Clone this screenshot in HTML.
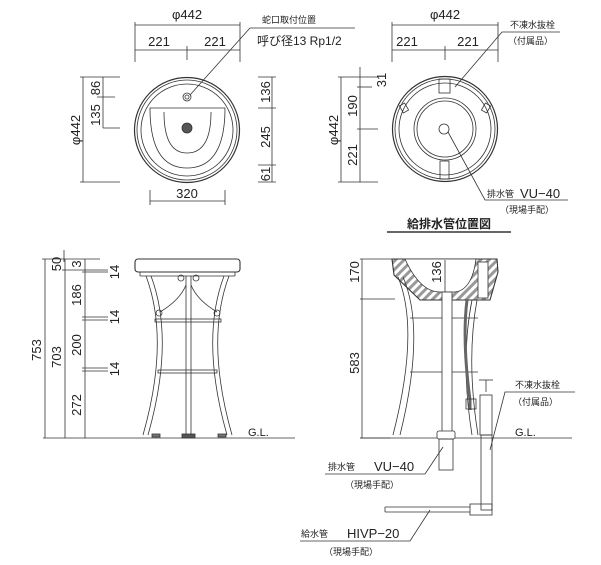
<!DOCTYPE html>
<html><head><meta charset="utf-8"><style>
html,body{margin:0;padding:0;background:#fff;}
svg{display:block;}
text{font-family:"Liberation Sans","Noto Sans CJK JP",sans-serif;fill:#222;}
.d{font-size:13px;}
.j{font-size:9px;}
</style></head><body>
<svg width="601" height="565" viewBox="0 0 601 565" xmlns="http://www.w3.org/2000/svg" fill="none" stroke="#333" stroke-width="0.8">
<defs>
<pattern id="h" width="6" height="6" patternUnits="userSpaceOnUse" patternTransform="rotate(45)">
<rect width="6" height="6" fill="#fff" stroke="none"/>
<rect width="3" height="6" fill="#999" stroke="none"/>
</pattern>
</defs>
<!-- TOP LEFT -->
<g>
<line x1="135" y1="22" x2="135" y2="62"/><line x1="240" y1="22" x2="240" y2="62"/>
<line x1="135" y1="25" x2="240" y2="25"/><line x1="135" y1="50" x2="240" y2="50"/>
<line x1="187" y1="46" x2="187" y2="60"/>
<text class="d" x="187" y="19" text-anchor="middle" stroke="none">φ442</text>
<text class="d" x="159" y="46" text-anchor="middle" stroke="none">221</text>
<text class="d" x="215" y="46" text-anchor="middle" stroke="none">221</text>
<circle cx="187" cy="130" r="52.5" stroke-width="1.2"/>
<circle cx="187" cy="130" r="50"/>
<circle cx="187" cy="130" r="46"/>
<path d="M150 108 Q150 168 187 168 Q225 168 225 108 Z"/>
<path d="M164 112 Q164 153 187 153 Q211 153 211 112"/>
<circle cx="187" cy="128" r="5" fill="#555"/>
<circle cx="187" cy="97" r="4"/>
<circle cx="187" cy="97" r="2"/>
<polyline points="190,95 250,28 355,28"/>
<text class="j" x="262" y="23" stroke="none">蛇口取付位置</text>
<text class="d" x="257" y="45" stroke="none" style="font-size:12px">呼び径13 Rp1/2</text>
<line x1="83" y1="77" x2="83" y2="182"/><line x1="103" y1="77" x2="103" y2="128"/>
<line x1="80" y1="77" x2="120" y2="77"/><line x1="97" y1="97" x2="115" y2="97"/>
<line x1="103" y1="128" x2="120" y2="128"/><line x1="80" y1="182" x2="120" y2="182"/>
<text class="d" transform="translate(80,130) rotate(-90)" text-anchor="middle" stroke="none">φ442</text>
<text class="d" transform="translate(100,115) rotate(-90)" text-anchor="middle" stroke="none">135</text>
<text class="d" transform="translate(100,88) rotate(-90)" text-anchor="middle" stroke="none">86</text>
<line x1="272" y1="77" x2="272" y2="182"/>
<line x1="258" y1="77" x2="276" y2="77"/><line x1="258" y1="108" x2="276" y2="108"/>
<line x1="258" y1="165" x2="276" y2="165"/><line x1="258" y1="182" x2="276" y2="182"/>
<text class="d" transform="translate(270,92) rotate(-90)" text-anchor="middle" stroke="none">136</text>
<text class="d" transform="translate(270,137) rotate(-90)" text-anchor="middle" stroke="none">245</text>
<text class="d" transform="translate(270,174) rotate(-90)" text-anchor="middle" stroke="none">61</text>
<line x1="150" y1="201" x2="225" y2="201"/><line x1="150" y1="190" x2="150" y2="205"/><line x1="225" y1="190" x2="225" y2="205"/>
<text class="d" x="187" y="198" text-anchor="middle" stroke="none">320</text>
</g>
<!-- TOP RIGHT -->
<g>
<line x1="392" y1="22" x2="392" y2="62"/><line x1="498" y1="22" x2="498" y2="62"/>
<line x1="392" y1="25" x2="498" y2="25"/><line x1="392" y1="50" x2="498" y2="50"/>
<line x1="445" y1="46" x2="445" y2="60"/>
<text class="d" x="445" y="19" text-anchor="middle" stroke="none">φ442</text>
<text class="d" x="407" y="46" text-anchor="middle" stroke="none">221</text>
<text class="d" x="468" y="46" text-anchor="middle" stroke="none">221</text>
<circle cx="445" cy="129" r="52.5" stroke-width="1.2"/>
<circle cx="445" cy="129" r="50"/>
<circle cx="445" cy="129" r="46"/>
<circle cx="445" cy="129" r="31"/>
<circle cx="445" cy="129" r="28"/>
<circle cx="444" cy="129" r="5"/>
<rect x="439" y="79" width="11" height="14"/>
<rect x="440" y="161" width="9" height="18"/>
<rect x="401" y="104" width="6" height="8" transform="rotate(-30 404 108)"/>
<rect x="483" y="104" width="6" height="8" transform="rotate(30 486 108)"/>
<polyline points="455,87 502,32 560,32"/>
<text class="j" x="510" y="28" stroke="none">不凍水抜栓</text>
<text class="j" x="508" y="44" stroke="none">（付属品）</text>
<polyline points="448,132 485,200 568,200"/>
<text class="j" x="487" y="197" stroke="none">排水管</text>
<text class="d" x="520" y="198" stroke="none">VU−40</text>
<text class="j" x="500" y="213" stroke="none">（現場手配）</text>
<line x1="341" y1="77" x2="341" y2="182"/><line x1="360" y1="67" x2="360" y2="182"/>
<line x1="338" y1="77" x2="378" y2="77"/><line x1="357" y1="87" x2="372" y2="87"/>
<line x1="357" y1="129" x2="378" y2="129"/><line x1="338" y1="182" x2="378" y2="182"/>
<text class="d" transform="translate(338,130) rotate(-90)" text-anchor="middle" stroke="none">φ442</text>
<text class="d" transform="translate(386,80) rotate(-90)" text-anchor="middle" stroke="none">31</text>
<text class="d" transform="translate(357,106) rotate(-90)" text-anchor="middle" stroke="none">190</text>
<text class="d" transform="translate(357,155) rotate(-90)" text-anchor="middle" stroke="none">221</text>
<text x="449" y="228" text-anchor="middle" stroke="none" style="font-size:12px;font-weight:bold">給排水管位置図</text>
<line x1="387" y1="232" x2="511" y2="232" stroke-width="1.5"/>
</g>
<!-- BOTTOM LEFT -->
<g>
<line x1="43" y1="438" x2="295" y2="438"/>
<text class="d" x="248" y="436" stroke="none" style="font-size:11px">G.L.</text>
<rect x="135" y="259" width="105" height="13" rx="3" stroke-width="1.1"/>
<line x1="140" y1="272" x2="140" y2="276"/><line x1="235" y1="272" x2="235" y2="276"/>
<line x1="140" y1="276" x2="235" y2="276"/>
<path d="M146 276 Q170 340 143 435 M151 276 Q175 340 148 435"/>
<path d="M229 276 Q205 340 232 435 M224 276 Q200 340 227 435"/>
<rect x="155" y="319" width="66" height="3"/>
<rect x="158" y="370" width="59" height="3"/>
<line x1="186" y1="276" x2="186" y2="435"/><line x1="191" y1="276" x2="191" y2="435"/>
<path d="M186 285 Q180 300 160 312 M191 285 Q197 300 217 312"/>
<circle cx="181" cy="278" r="3"/><circle cx="196" cy="278" r="3"/>
<circle cx="159" cy="313" r="3"/><circle cx="217" cy="313" r="3"/>
<rect x="182" y="434" width="13" height="4" fill="#555"/>
<rect x="152" y="434" width="8" height="3" fill="#777"/><rect x="218" y="434" width="8" height="3" fill="#777"/>
<line x1="45" y1="259" x2="45" y2="438"/><line x1="65" y1="259" x2="65" y2="438"/><line x1="85" y1="259" x2="85" y2="438"/>
<line x1="42" y1="259" x2="100" y2="259"/><line x1="62" y1="270" x2="108" y2="270"/>
<line x1="82" y1="272" x2="108" y2="272"/><line x1="82" y1="317" x2="108" y2="317"/><line x1="82" y1="320" x2="108" y2="320"/>
<line x1="82" y1="368" x2="108" y2="368"/><line x1="82" y1="371" x2="108" y2="371"/>
<line x1="64" y1="250" x2="64" y2="262"/>
<text class="d" transform="translate(41,350) rotate(-90)" text-anchor="middle" stroke="none">753</text>
<text class="d" transform="translate(61,357) rotate(-90)" text-anchor="middle" stroke="none">703</text>
<text class="d" transform="translate(61,264) rotate(-90)" text-anchor="middle" stroke="none">50</text>
<text class="d" transform="translate(81,264) rotate(-90)" text-anchor="middle" stroke="none">3</text>
<text class="d" transform="translate(81,295) rotate(-90)" text-anchor="middle" stroke="none">186</text>
<text class="d" transform="translate(81,345) rotate(-90)" text-anchor="middle" stroke="none">200</text>
<text class="d" transform="translate(81,405) rotate(-90)" text-anchor="middle" stroke="none">272</text>
<text class="d" transform="translate(119,272) rotate(-90)" text-anchor="middle" stroke="none">14</text>
<text class="d" transform="translate(119,317) rotate(-90)" text-anchor="middle" stroke="none">14</text>
<text class="d" transform="translate(119,369) rotate(-90)" text-anchor="middle" stroke="none">14</text>
</g>
<!-- BOTTOM RIGHT -->
<g>
<line x1="360" y1="438" x2="572" y2="438"/>
<text class="d" x="515" y="436" stroke="none" style="font-size:11px">G.L.</text>
<line x1="362" y1="259" x2="362" y2="438"/>
<line x1="360" y1="259" x2="395" y2="259"/><line x1="360" y1="299" x2="395" y2="299"/><line x1="360" y1="438" x2="390" y2="438"/>
<text class="d" transform="translate(359,272) rotate(-90)" text-anchor="middle" stroke="none">170</text>
<text class="d" transform="translate(359,363) rotate(-90)" text-anchor="middle" stroke="none">583</text>
<path d="M392 259 L497 259 L498 272 L490 300 L420 300 L394 275 Z" stroke-width="1.1" fill="url(#h)"/>
<path d="M405 259 Q420 292 440 292 L455 292 Q472 290 476 259 Z" fill="#fff"/>
<rect x="478" y="262" width="10" height="36" fill="#fff"/>
<line x1="445" y1="260" x2="445" y2="292"/>
<text class="d" transform="translate(441,272) rotate(-90)" text-anchor="middle" stroke="none">136</text>
<path d="M398 277 Q420 330 393 435 M403 277 Q426 330 400 435"/>
<path d="M472 300 Q460 360 472 435 M477 300 Q466 360 478 435"/>
<line x1="410" y1="318" x2="478" y2="318"/><line x1="410" y1="372" x2="478" y2="372"/>
<rect x="442" y="292" width="10" height="140" fill="#fff"/>
<rect x="437" y="431" width="18" height="8" rx="2" fill="#fff"/>
<rect x="439" y="439" width="14" height="31"/>
<path d="M467 300 Q462 340 470 400 L470 410" stroke-width="3" stroke="#666"/>
<rect x="466" y="399" width="10" height="10"/>
<rect x="480" y="395" width="12" height="40"/>
<rect x="481" y="435" width="11" height="75"/>
<line x1="486" y1="392" x2="486" y2="380"/><line x1="479" y1="380" x2="493" y2="380"/>
<line x1="385" y1="507" x2="470" y2="507"/><line x1="385" y1="512" x2="470" y2="512"/><line x1="385" y1="507" x2="385" y2="512"/>
<rect x="470" y="504" width="22" height="11"/>
<polyline points="490,450 505,392 575,392"/>
<text class="j" x="515" y="388" stroke="none">不凍水抜栓</text>
<text class="j" x="513" y="405" stroke="none">（付属品）</text>
<polyline points="443,447 425,474 325,474"/>
<text class="j" x="328" y="470" stroke="none">排水管</text>
<text class="d" x="374" y="471" stroke="none">VU−40</text>
<text class="j" x="345" y="488" stroke="none">（現場手配）</text>
<polyline points="430,510 410,541 300,541"/>
<text class="j" x="301" y="537" stroke="none">給水管</text>
<text class="d" x="347" y="538" stroke="none">HIVP−20</text>
<text class="j" x="324" y="555" stroke="none">（現場手配）</text>
</g>
</svg>
</body></html>
